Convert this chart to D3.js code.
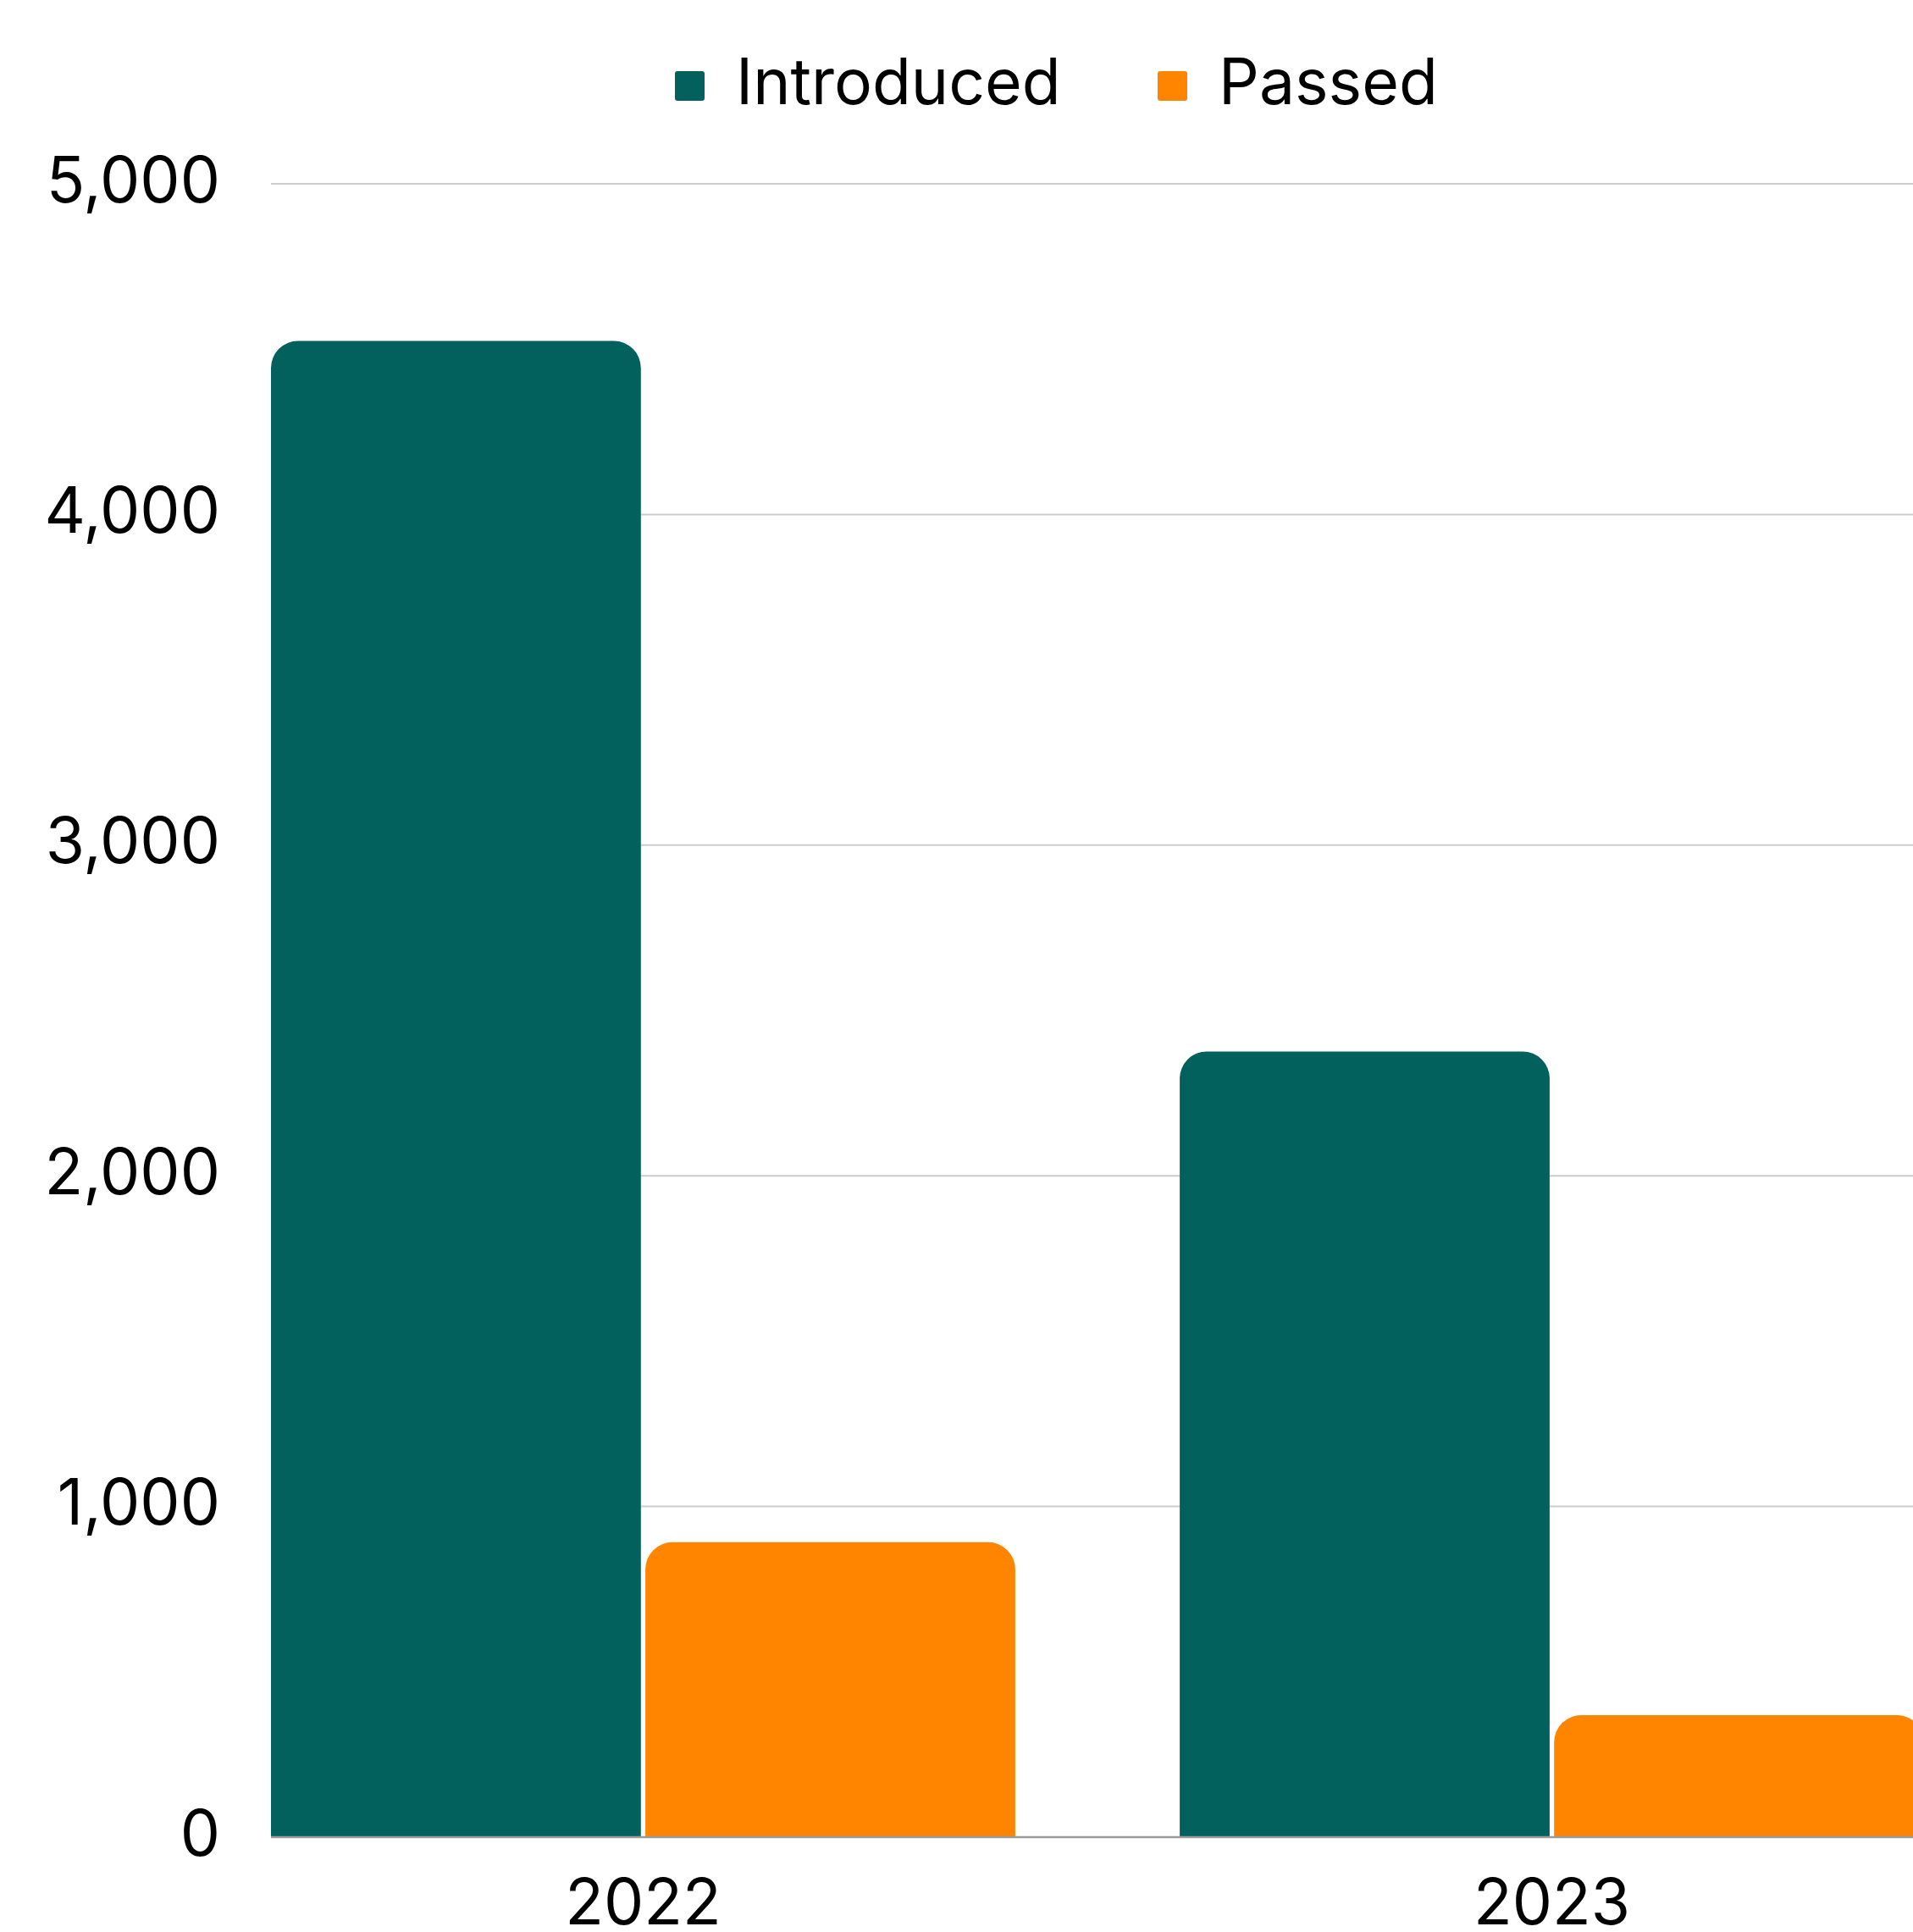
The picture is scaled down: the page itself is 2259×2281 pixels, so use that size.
<!DOCTYPE html>
<html>
<head>
<meta charset="utf-8">
<script src="https://cdn.jsdelivr.net/npm/d3@7"></script>
<style>
  body { margin: 0; background: #fff; }
  svg { display: block; font-family: "Inter", "Lato", sans-serif; }
</style>
</head>
<body>
<div id="chart-area"></div>
<script>
// Data
const years = ["2022", "2023"];
const introduced = [4525, 2376];
const passed = [892, 369];
const seriesNames = ["Introduced", "Passed"];
const seriesColors = ["#02605d", "#ff8500"];
const yTicks = [0, 1000, 2000, 3000, 4000, 5000];

const width = 2259, height = 2281;
const margin = { left: 320, right: -13, top: 217, bottom: 112 };

const svg = d3.select("#chart-area").append("svg")
    .attr("width", width)
    .attr("height", height);

// Scales
const x0 = d3.scaleBand()
    .domain(years)
    .range([margin.left, width - margin.right])
    .paddingInner(0.181)
    .paddingOuter(0);

const x1 = d3.scaleBand()
    .domain(seriesNames)
    .range([0, x0.bandwidth()])
    .paddingInner(0.012);

const y = d3.scaleLinear()
    .domain([0, 5000])
    .range([height - margin.bottom, margin.top]);

// Gridlines
svg.append("g")
    .attr("class", "grid")
    .selectAll("line")
    .data(yTicks.filter(d => d > 0))
    .enter().append("line")
    .attr("x1", margin.left)
    .attr("x2", width)
    .attr("y1", d => y(d))
    .attr("y2", d => y(d))
    .attr("stroke", "#cccccc")
    .attr("stroke-width", 2);

// Y axis labels
const yAxisCall = d3.axisLeft(y)
    .tickValues(yTicks)
    .tickSize(0)
    .tickPadding(0)
    .tickFormat(d3.format(","));

const yAxis = svg.append("g")
    .attr("class", "y axis")
    .attr("transform", "translate(260,0)")
    .call(yAxisCall);
yAxis.select(".domain").remove();
yAxis.selectAll("text")
    .attr("font-size", 75)
    .attr("font-family", "Inter, sans-serif")
    .attr("fill", "#000")
    .attr("dy", "0.28em");

// Bars with rounded top corners
function topRounded(x, yTop, w, h, r) {
    r = Math.min(r, h, w / 2);
    return "M" + x + "," + (yTop + h) +
        "V" + (yTop + r) +
        "A" + r + "," + r + " 0 0 1 " + (x + r) + "," + yTop +
        "H" + (x + w - r) +
        "A" + r + "," + r + " 0 0 1 " + (x + w) + "," + (yTop + r) +
        "V" + (yTop + h) + "Z";
}

const rows = years.map((yr, i) => ({
    year: yr,
    values: [
        { key: "Introduced", value: introduced[i] },
        { key: "Passed", value: passed[i] }
    ]
}));

const color = d3.scaleOrdinal().domain(seriesNames).range(seriesColors);

const groups = svg.append("g")
    .selectAll("g")
    .data(rows)
    .enter().append("g")
    .attr("transform", d => "translate(" + x0(d.year) + ",0)");

groups.selectAll("path")
    .data(d => d.values)
    .enter().append("path")
    .attr("fill", d => color(d.key))
    .attr("d", d => topRounded(x1(d.key), y(d.value), x1.bandwidth(),
        y(0) - y(d.value), 32));

// Baseline
svg.append("line")
    .attr("x1", margin.left)
    .attr("x2", width)
    .attr("y1", y(0))
    .attr("y2", y(0))
    .attr("stroke", "#9a9a9a")
    .attr("stroke-width", 2.5);

// X axis labels
svg.append("g")
    .attr("class", "x axis")
    .selectAll("text")
    .data(years)
    .enter().append("text")
    .attr("x", d => x0(d) + x0.bandwidth() / 2)
    .attr("y", 2272)
    .attr("text-anchor", "middle")
    .attr("font-size", 75)
    .attr("fill", "#000")
    .text(d => d);

// Legend
const legendX = [797, 1367];
const legend = svg.append("g")
    .attr("class", "legend")
    .selectAll("g")
    .data(seriesNames)
    .enter().append("g")
    .attr("transform", (d, i) => "translate(" + legendX[i] + ",0)");

legend.append("rect")
    .attr("x", 0)
    .attr("y", 84)
    .attr("width", 35)
    .attr("height", 35)
    .attr("rx", 3)
    .attr("fill", d => color(d));

legend.append("text")
    .attr("x", 72)
    .attr("y", 123)
    .attr("font-size", 75)
    .attr("fill", "#000")
    .text(d => d);
</script>
</body>
</html>
